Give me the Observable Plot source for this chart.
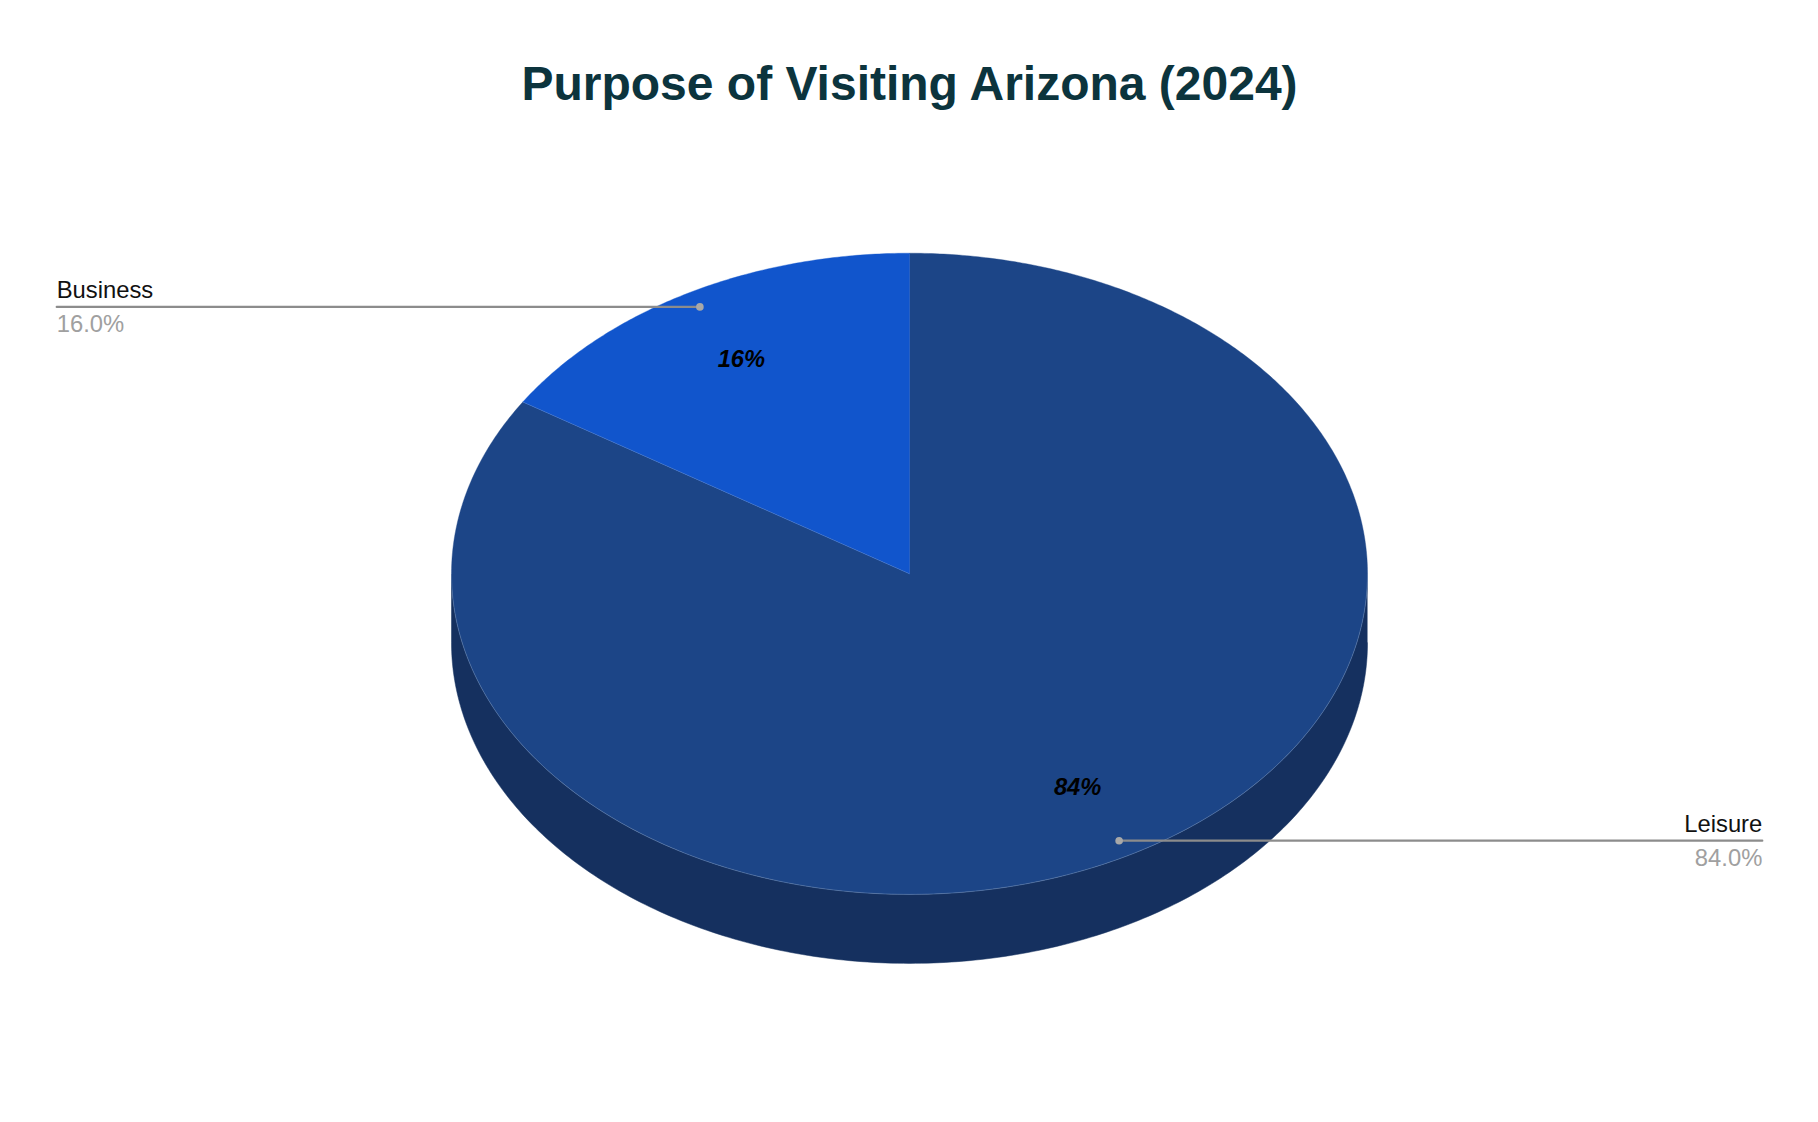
<!DOCTYPE html>
<html>
<head>
<meta charset="utf-8">
<script src="https://cdn.jsdelivr.net/npm/d3@7"></script>
<script src="https://cdn.jsdelivr.net/npm/@observablehq/plot@0.6"></script>
<style>
html,body{margin:0;padding:0;background:#fff;}
#title{box-sizing:border-box;height:124px;padding-top:53.5px;width:1818px;text-align:center;font:bold 48px/60px "Liberation Sans",Arial,sans-serif;color:#0c343d;text-indent:1px;}
#chart svg{display:block;}
</style>
</head>
<body>
<div id="title">Purpose of Visiting Arizona (2024)</div>
<div id="chart"></div>
<script>
const categories = ["Leisure", "Business"];
const values = [84, 16];
const valueLabels = ["84.0%", "16.0%"];
const innerLabels = ["84%", "16%"];
const colors = ["#1c4587", "#1155cc"];

const W = 1818, H = 998, cx = 909, cy = 449.3, rx = 458, ry = 320.6;
const depth = 69 / ry, leaderX = 1.862;
const total = d3.sum(values);
let acc = 0;
const slices = categories.map((name, i) => {
  const a0 = acc / total * 2 * Math.PI;
  acc += values[i];
  const a1 = acc / total * 2 * Math.PI;
  return {name, a0, a1, mid: (a0 + a1) / 2, i};
});
const onRim = (a, r = 1, dy = 0) => ({px: r * Math.sin(a), py: r * Math.cos(a) + dy});
const facePts = slices.flatMap(s => {
  const n = Math.ceil((s.a1 - s.a0) * 120);
  const rim = d3.range(n + 1).map(k => onRim(s.a0 + (s.a1 - s.a0) * k / n));
  return [{px: 0, py: 0}, ...rim, {px: 0, py: 0}].map(p => ({...p, name: s.name}));
});
const wallPts = [
  ...d3.range(0, 241).map(k => onRim(Math.PI / 2 + Math.PI * k / 240, 1, -depth)),
  ...d3.range(0, 241).map(k => onRim(3 * Math.PI / 2 - Math.PI * k / 240))
];
const frontRim = d3.range(0, 241).map(k => onRim(Math.PI / 2 + Math.PI * k / 240));
const divider = [{px: 0, py: 0}, onRim(slices[0].a1)];
const anchors = slices.map(s => {
  const p = onRim(s.mid, 0.95), q = onRim(s.mid, 0.762);
  const side = p.px < 0 ? -1 : 1;
  return {...s, ax: p.px, ay: p.py, ix: q.px, iy: q.py, endX: side * leaderX, anchor: side < 0 ? "start" : "end"};
});
const leaders = anchors.flatMap(a => [{name: a.name, px: a.ax, py: a.ay}, {name: a.name, px: a.endX, py: a.ay}]);
const lab = "Liberation Sans, Arial, sans-serif";

const textFor = (rows, anchor) => rows.filter(d => d.anchor === anchor);
const sideMarks = anchor => [
  Plot.text(textFor(anchors, anchor), {x: "endX", y: "ay", text: "name", textAnchor: anchor, lineAnchor: "bottom", dy: -8.5, fontSize: 23.8, fill: "#111111", fontFamily: lab}),
  Plot.text(textFor(anchors, anchor), {x: "endX", y: "ay", text: d => valueLabels[d.i], textAnchor: anchor, lineAnchor: "top", dy: 8, fontSize: 23.8, fill: "#a0a0a0", fontFamily: lab})
];

const chart = Plot.plot({
  width: W, height: H, margin: 0,
  style: {background: "#fff"},
  x: {domain: [-cx / rx, (W - cx) / rx], range: [0, W], axis: null},
  y: {domain: [cy / ry, -(H - cy) / ry], range: [0, H], axis: null},
  color: {domain: categories, range: colors},
  marks: [
    Plot.line(wallPts, {x: "px", y: "py", fill: "#15305f", stroke: "#15305f", strokeWidth: 0.5, curve: "linear"}),
    Plot.line(facePts, {x: "px", y: "py", fill: "name", stroke: "name", strokeWidth: 0.4, curve: "linear"}),
    Plot.line(frontRim, {x: "px", y: "py", stroke: "#a9bedf", strokeOpacity: 0.5, strokeWidth: 0.6, curve: "linear"}),
    Plot.line(divider, {x: "px", y: "py", stroke: "#a9bedf", strokeOpacity: 0.35, strokeWidth: 0.6}),
    Plot.line(leaders, {x: "px", y: "py", z: "name", stroke: "#8c8c8c", strokeWidth: 2.2}),
    Plot.dot(anchors, {x: "ax", y: "ay", r: 3.8, fill: "#a8a8a8"}),
    ...sideMarks("start"),
    ...sideMarks("end"),
    Plot.text(anchors, {x: "ix", y: "iy", text: d => innerLabels[d.i], fontSize: 23.7, fontWeight: "bold", fontStyle: "italic", fill: "#000", fontFamily: lab})
  ]
});
document.getElementById("chart").appendChild(chart);
</script>
</body>
</html>
